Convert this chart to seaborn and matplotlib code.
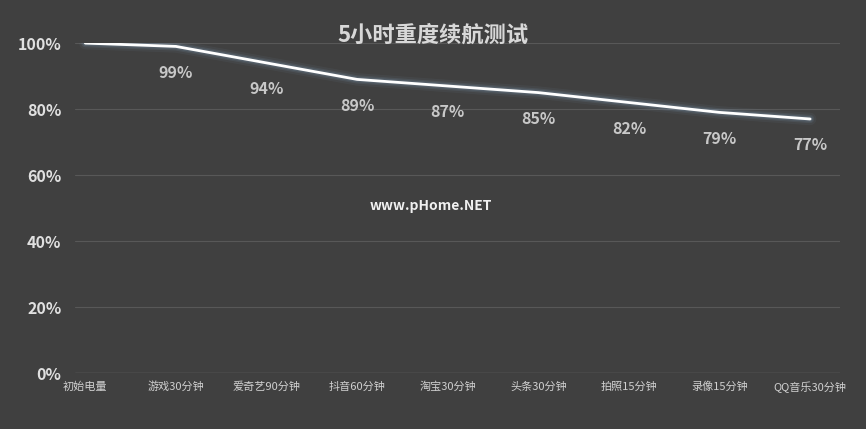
import matplotlib
matplotlib.use("Agg")
import matplotlib.pyplot as plt
import seaborn as sns
import pandas as pd

categories = ["初始电量", "游戏30分钟", "爱奇艺90分钟", "抖音60分钟", "淘宝30分钟", "头条30分钟", "拍照15分钟", "录像15分钟", "QQ音乐30分钟"]
values = [100, 99, 94, 89, 87, 85, 82, 79, 77]
yticks = [0, 20, 40, 60, 80, 100]
ytick_labels = ["0%", "20%", "40%", "60%", "80%", "100%"]

sns.set_theme(style="dark")
plt.rcParams['font.family'] = ['Noto Sans CJK SC', 'DejaVu Sans']
bg = "#404040"
fig = plt.figure(figsize=(8.66, 4.29), dpi=100, facecolor=bg)
ax = fig.add_axes([0.087, 0.1305, 0.883, 0.769], facecolor=bg)
df = pd.DataFrame({"x": range(len(categories)), "v": values})
for lw, a in [(9, 0.06), (6, 0.1), (4, 0.15)]:
    sns.lineplot(data=df, x="x", y="v", ax=ax, color="#8fb4d9", lw=lw, alpha=a)
sns.lineplot(data=df, x="x", y="v", ax=ax, color="white", lw=2)
for i, v in enumerate(values):
    if i == 0:
        continue
    ax.annotate(f"{v}%", (i, v), xytext=(0, -19), textcoords="offset points",
                ha="center", va="center", color="#c8c8c8", fontsize=11.5, fontweight="bold")
ax.set_xlim(-0.11, 8.33)
ax.set_ylim(0, 100)
ax.set_yticks(yticks)
ax.set_yticklabels(ytick_labels, color="#e0e0e0", fontsize=11.5, fontweight="bold")
ax.set_xticks(range(len(categories)))
ax.set_xticklabels(categories, color="#d0d0d0", fontsize=8)
ax.tick_params(axis="both", length=0, pad=6)
ax.tick_params(axis="y", pad=10)
for y in yticks[1:]:
    ax.axhline(y, color="#585858", lw=0.8, zorder=0)
ax.axhline(0, color="#6a6a6a", lw=1, zorder=0)
ax.grid(False)
for s in ax.spines.values():
    s.set_visible(False)
ax.set_xlabel(""); ax.set_ylabel("")
fig.text(0.5, 1 - 35 / 429, "5小时重度续航测试", ha="center", va="center",
         color="#d8d8d8", fontsize=16, fontweight="bold")
fig.text(0.497, 1 - 206 / 429, "www.pHome.NET", ha="center", va="center",
         color="#f0f0f0", fontsize=10, fontweight="bold")
fig.savefig("out.png", dpi=100, facecolor=bg)
